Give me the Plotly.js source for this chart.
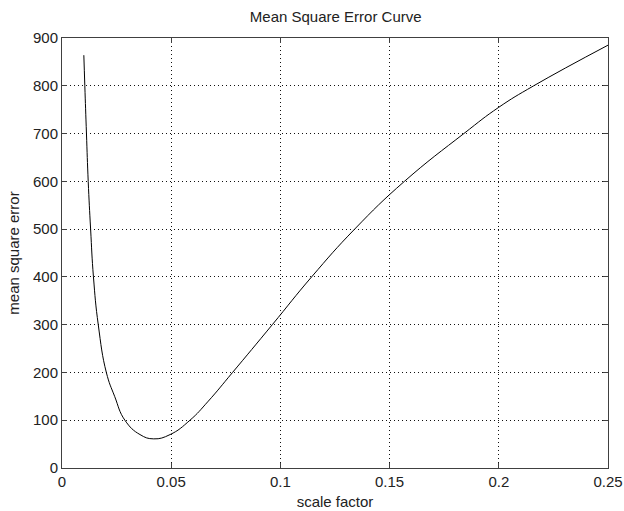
<!DOCTYPE html>
<html>
<head>
<meta charset="utf-8">
<script src="https://cdn.plot.ly/plotly-3.0.1.min.js"></script>
<style>html,body{margin:0;padding:0;background:#fff;}#chart{width:624px;height:511px;}</style>
</head>
<body>
<div id="chart"></div>
<script>
var scaleFactor = [0.0100, 0.01045, 0.0112, 0.0120, 0.0131, 0.0144, 0.0166, 0.0203, 0.0241, 0.0288, 0.0357, 0.0420, 0.0495, 0.0586, 0.0670, 0.0781, 0.0963, 0.1143, 0.1340, 0.1568, 0.1840, 0.2000, 0.2160, 0.2500];
var meanSquareError = [864, 800, 700, 600, 500, 400, 300, 200, 150, 100, 70, 61, 70, 100, 140, 200, 300, 400, 500, 600, 700, 755, 800, 885];
var xTicks = [0, 0.05, 0.1, 0.15, 0.2, 0.25];
var xTickLabels = ['0', '0.05', '0.1', '0.15', '0.2', '0.25'];
var yTicks = [0, 100, 200, 300, 400, 500, 600, 700, 800, 900];

var fontFam = 'Liberation Sans, Arial, sans-serif';
var trace = {
  x: scaleFactor,
  y: meanSquareError,
  type: 'scatter',
  mode: 'lines',
  line: {color: '#000', width: 1, shape: 'spline', smoothing: 1.3},
  hoverinfo: 'skip'
};
var axisCommon = {
  showline: true, linecolor: '#404040', linewidth: 1, mirror: 'ticks',
  ticks: 'inside', ticklen: 5, tickcolor: '#404040',
  showgrid: true, gridcolor: '#111', griddash: '1px,3px', gridwidth: 1,
  zeroline: false,
  tickfont: {family: fontFam, size: 15, color: '#222'}
};
var layout = {
  width: 624, height: 511,
  margin: {l: 62, r: 16, t: 38, b: 43},
  paper_bgcolor: '#fff', plot_bgcolor: '#fff',
  showlegend: false,
  title: {text: 'Mean Square Error Curve', font: {family: fontFam, size: 15, color: '#222'}, x: 0.538, xanchor: 'center', y: 0.968, yanchor: 'middle'},
  xaxis: Object.assign({}, axisCommon, {
    range: [0, 0.25], tickvals: xTicks, ticktext: xTickLabels,
    title: {text: 'scale factor', font: {family: fontFam, size: 15, color: '#222'}, standoff: 7}
  }),
  yaxis: Object.assign({}, axisCommon, {
    range: [0, 900], tickvals: yTicks,
    title: {text: 'mean square error', font: {family: fontFam, size: 15, color: '#222'}, standoff: 9}
  })
};
Plotly.newPlot('chart', [trace], layout, {staticPlot: true, displayModeBar: false});
</script>
</body>
</html>
